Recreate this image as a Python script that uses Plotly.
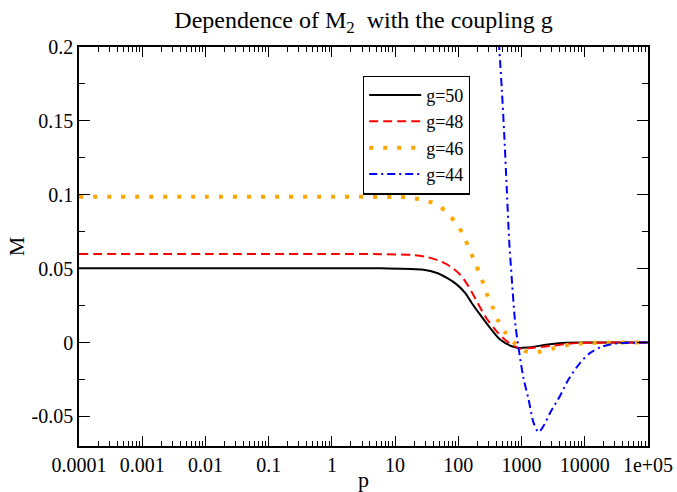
import plotly.graph_objects as go

# ---- data ----
p50 = [1e-4, 1e-2, 1, 6, 28, 46, 66, 95, 128, 163, 221, 318, 458, 702, 900, 1200, 2800, 5000, 1e4, 1e5]
m50 = [0.0502, 0.0502, 0.0502, 0.0502, 0.0493, 0.0471, 0.0437, 0.0392, 0.0336, 0.0268, 0.0189, 0.0099, 0.0020, -0.0025, -0.0036, -0.0034, -0.0012, -0.0002, 0.0, 0.0]

p48 = [1e-4, 1e-2, 1, 6, 19.5, 32, 52, 74, 107, 145, 196, 265, 382, 585, 950, 1300, 2800, 5000, 9500, 1e5]
m48 = [0.0599, 0.0599, 0.0599, 0.0598, 0.0592, 0.0579, 0.0550, 0.0516, 0.0459, 0.0380, 0.0279, 0.0178, 0.0088, 0.0009, -0.0040, -0.0038, -0.0024, -0.0010, -0.0002, 0.0]

p46 = [1e-4, 1e-2, 1, 10, 15, 26, 43, 64, 89, 116, 141, 173, 208, 250, 292, 359, 431, 563, 793, 1167, 1900, 3100, 5000, 8000, 13000, 1e5]
m46 = [0.0986, 0.0986, 0.0986, 0.0985, 0.0983, 0.0966, 0.0939, 0.0887, 0.0815, 0.0741, 0.0658, 0.0568, 0.0486, 0.0396, 0.0313, 0.0228, 0.0144, 0.0065, -0.0007, -0.0059, -0.0063, -0.0040, -0.0018, -0.0007, -0.0002, 0.0]

p44 = [300, 443, 488, 531, 585, 636, 702, 793, 893, 1072, 1285, 1543, 1855, 2223, 2835, 4075, 5520, 8450, 12170, 18000, 30000, 1e5]
m44 = [0.325, 0.200, 0.171, 0.1417, 0.103, 0.0696, 0.0426, 0.0133, -0.0030, -0.0240, -0.0380, -0.0540, -0.0606, -0.0565, -0.0475, -0.0360, -0.0250, -0.0137, -0.0070, -0.0030, -0.0007, 0.0]

x_tickvals = [1e-4, 1e-3, 1e-2, 1e-1, 1, 10, 100, 1000, 1e4, 1e5]
x_ticktext = ["0.0001", "0.001", "0.01", "0.1", "1", "10", "100", "1000", "10000", "1e+05"]
y_tickvals = [-0.05, 0, 0.05, 0.1, 0.15, 0.2]
y_ticktext = ["-0.05", "0", "0.05", "0.1", "0.15", "0.2"]

x_minor = [m * 10 ** e for e in range(-4, 5) for m in range(2, 10)]

FONT = "'Liberation Serif', 'Times New Roman', serif"

fig = go.Figure()
fig.add_trace(go.Scatter(x=p50, y=m50, name="g=50", mode="lines",
                         line=dict(color="black", width=2, shape="spline", smoothing=0.8)))
fig.add_trace(go.Scatter(x=p48, y=m48, name="g=48", mode="lines",
                         line=dict(color="#ff0000", width=2, dash="9px,5px", shape="spline", smoothing=0.8)))
fig.add_trace(go.Scatter(x=p46, y=m46, name="g=46", mode="lines",
                         line=dict(color="#ffa500", width=4, dash="4px,10px", shape="spline", smoothing=0.8)))
fig.add_trace(go.Scatter(x=p44, y=m44, name="g=44", mode="lines",
                         line=dict(color="#0000ff", width=2, dash="8px,4px,2px,4px", shape="spline", smoothing=0.8)))

axis_common = dict(
    showgrid=False, zeroline=False, showline=True, linecolor="black", linewidth=1.5,
    mirror="allticks", ticks="inside", tickcolor="black", tickwidth=1.2,
    tickfont=dict(family=FONT, size=20, color="black"),
)

fig.update_xaxes(
    type="log", range=[-4, 5], tickmode="array", tickvals=x_tickvals, ticktext=x_ticktext,
    ticklen=10, automargin=False,
    minor=dict(tickmode="array", tickvals=x_minor, ticks="inside", ticklen=5, tickcolor="black", tickwidth=1),
    title=dict(text="p", font=dict(family=FONT, size=22, color="black"), standoff=2),
    **axis_common,
)
fig.update_yaxes(
    range=[-0.07, 0.2], tickmode="array", tickvals=y_tickvals, ticktext=y_ticktext,
    ticklen=11, automargin=False,
    minor=dict(dtick=0.025, ticks="inside", ticklen=6, tickcolor="black", tickwidth=1),
    title=dict(text="M", font=dict(family=FONT, size=22, color="black"), standoff=1),
    **axis_common,
)

fig.update_layout(
    width=677, height=492,
    font=dict(family=FONT, color="black", size=20),
    margin=dict(l=79, r=29, t=47, b=46),
    paper_bgcolor="white", plot_bgcolor="white",
    title=dict(text="Dependence of M<sub>2</sub>  with the coupling g",
               font=dict(family=FONT, size=24, color="black"),
               x=(79 + 648) / 2 / 677, xanchor="center", y=1 - 20 / 492, yanchor="middle",
               xref="container", yref="container"),
    legend=dict(x=(363 - 79) / 569, y=(446 - 75.5) / 399, xanchor="left", yanchor="top",
                bgcolor="white", bordercolor="black", borderwidth=1.2, itemwidth=52,
                font=dict(family=FONT, size=18, color="black"), tracegroupgap=0),
    showlegend=True,
)

fig.write_html("out.html", config={"displayModeBar": False},
               post_script="document.body.style.margin='0px';")
